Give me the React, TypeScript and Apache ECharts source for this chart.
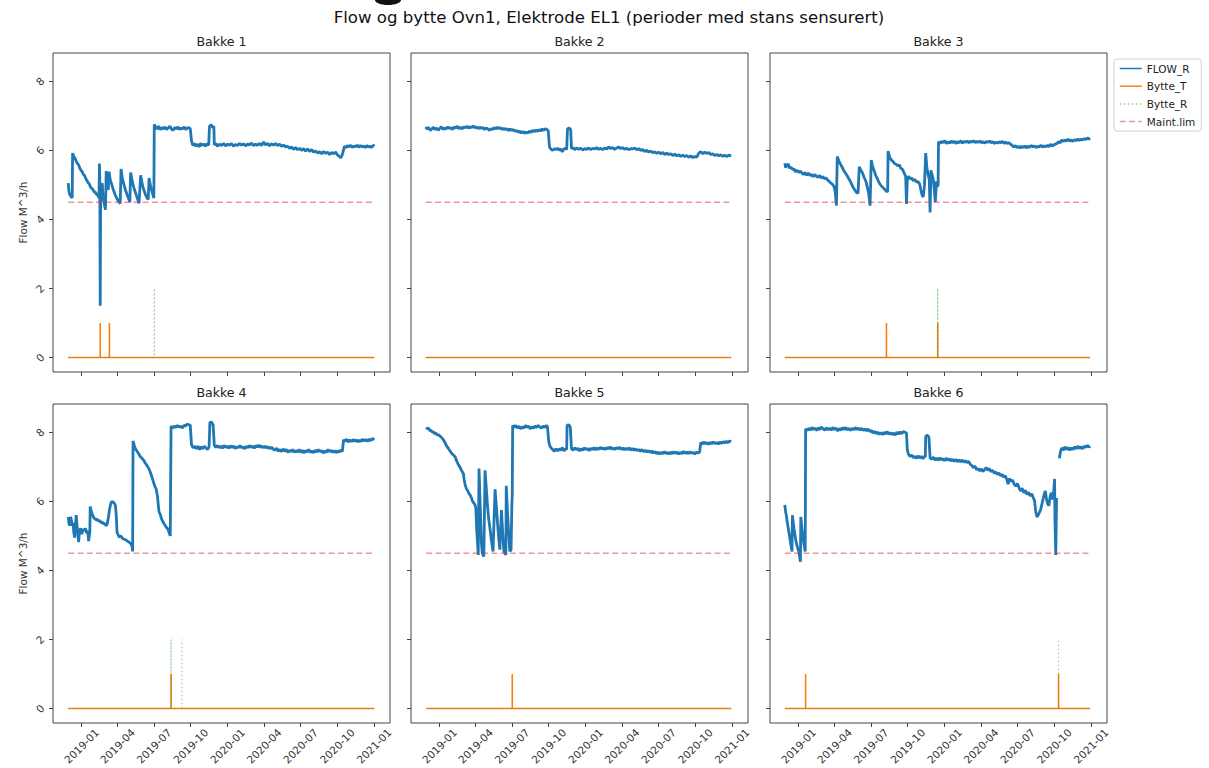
import React, { useEffect, useRef } from "react";
import * as echarts from "echarts";

// Day offsets relative to 2019-01-01, flow values in M^3/h
const flow1: ([number, number] | null)[] = [[-33,5.05],[-31,4.8],[-29,4.72],[-26,4.66],[-23,4.63],[-22,5.92],[-19,5.82],[-16,5.78],[-13,5.68],[-10,5.62],[-7,5.58],[-4,5.48],[-1,5.42],[2,5.38],[5,5.3],[8,5.27],[11,5.18],[14,5.12],[17,5.06],[20,5.02],[23,4.93],[26,4.9],[29,4.86],[32,4.8],[35,4.78],[38,4.72],[41,4.7],[44,4.62],[45,5.62],[46,5.1],[47,1.5],[48,4.62],[50,4.75],[52,5.05],[54,4.62],[57,4.45],[60,4.28],[62,5.4],[64,5.1],[67,4.85],[69,5.38],[72,5.15],[76,5.0],[80,4.85],[84,4.72],[88,4.62],[93,4.52],[97,4.46],[99,5.46],[102,5.2],[106,5.02],[110,4.85],[114,4.72],[118,4.6],[121,4.5],[123,5.36],[127,5.1],[131,4.92],[135,4.78],[140,4.6],[144,4.47],[148,5.28],[152,5.02],[156,4.85],[160,4.72],[164,4.62],[167,4.58],[169,5.2],[173,4.95],[177,4.78],[181,4.62],[182,6.75],[185,6.68],[189,6.62],[193,6.7],[197,6.6],[201,6.66],[205,6.62],[209,6.68],[213,6.6],[217,6.65],[221,6.7],[225,6.62],[229,6.58],[233,6.66],[237,6.62],[241,6.68],[245,6.6],[249,6.65],[253,6.62],[257,6.68],[261,6.6],[265,6.65],[269,6.66],[272,6.62],[275,6.28],[278,6.15],[282,6.2],[286,6.12],[290,6.18],[294,6.1],[298,6.2],[302,6.14],[306,6.18],[310,6.12],[314,6.2],[318,6.15],[320,6.7],[324,6.74],[328,6.66],[331,6.7],[332,6.16],[336,6.2],[340,6.12],[345,6.18],[350,6.14],[355,6.2],[360,6.13],[365,6.18],[370,6.15],[375,6.2],[380,6.12],[385,6.17],[390,6.14],[395,6.2],[400,6.15],[405,6.19],[410,6.13],[415,6.18],[420,6.16],[425,6.21],[430,6.14],[435,6.18],[440,6.15],[445,6.2],[450,6.14],[455,6.24],[460,6.16],[465,6.2],[470,6.13],[475,6.19],[480,6.15],[485,6.2],[490,6.14],[495,6.18],[500,6.12],[505,6.15],[510,6.1],[515,6.12],[520,6.06],[525,6.1],[530,6.03],[535,6.08],[540,6.02],[545,6.06],[550,6.0],[555,6.05],[560,5.98],[565,6.04],[570,5.97],[575,6.02],[580,5.95],[585,5.98],[590,5.92],[595,5.96],[600,5.9],[605,5.97],[610,5.91],[615,5.95],[620,5.88],[625,5.94],[630,5.9],[635,5.95],[640,5.86],[645,5.82],[648,5.78],[652,5.88],[655,6.02],[657,6.12],[661,6.08],[665,6.14],[669,6.1],[673,6.15],[677,6.08],[681,6.13],[685,6.1],[689,6.15],[693,6.09],[697,6.14],[701,6.1],[705,6.13],[709,6.08],[713,6.14],[717,6.1],[721,6.12],[725,6.08],[729,6.15],[732,6.12]];

const flow2: ([number, number] | null)[] = [[-34,6.68],[-31,6.62],[-27,6.66],[-23,6.58],[-19,6.62],[-15,6.67],[-11,6.6],[-7,6.65],[-3,6.58],[1,6.64],[5,6.68],[9,6.6],[13,6.65],[17,6.62],[21,6.68],[25,6.63],[29,6.66],[33,6.6],[37,6.68],[41,6.64],[45,6.7],[49,6.63],[53,6.67],[57,6.62],[61,6.68],[65,6.65],[69,6.7],[73,6.64],[77,6.68],[81,6.66],[85,6.71],[89,6.65],[93,6.68],[97,6.63],[101,6.67],[105,6.64],[109,6.66],[113,6.6],[117,6.65],[121,6.62],[125,6.58],[129,6.63],[133,6.6],[137,6.66],[141,6.62],[145,6.67],[149,6.63],[153,6.66],[157,6.6],[161,6.64],[165,6.6],[169,6.63],[173,6.57],[177,6.62],[181,6.58],[185,6.6],[189,6.55],[193,6.58],[197,6.52],[201,6.56],[205,6.5],[209,6.55],[213,6.49],[217,6.53],[221,6.5],[225,6.56],[229,6.52],[233,6.58],[237,6.54],[241,6.59],[245,6.55],[249,6.6],[253,6.56],[257,6.62],[261,6.58],[265,6.63],[269,6.6],[272,6.56],[275,6.1],[279,6.03],[283,6.0],[287,6.05],[291,6.02],[295,6.06],[299,6.01],[303,6.04],[307,5.96],[311,6.04],[315,6.06],[318,6.02],[320,6.62],[324,6.65],[328,6.6],[330,6.05],[334,6.08],[338,6.02],[343,6.07],[348,6.03],[353,6.06],[358,6.01],[363,6.05],[368,6.03],[373,6.07],[378,6.02],[383,6.06],[388,6.04],[393,6.08],[398,6.03],[403,6.06],[408,6.02],[413,6.07],[418,6.04],[423,6.1],[428,6.05],[433,6.08],[438,6.03],[443,6.07],[448,6.1],[453,6.05],[458,6.08],[463,6.03],[468,6.06],[473,6.02],[478,6.05],[483,6.04],[488,6.07],[493,6.02],[498,6.05],[503,6.0],[508,6.02],[513,5.97],[518,6.0],[523,5.95],[528,5.98],[533,5.93],[538,5.96],[543,5.91],[548,5.95],[553,5.9],[558,5.94],[563,5.88],[568,5.92],[573,5.88],[578,5.9],[583,5.85],[588,5.89],[593,5.84],[598,5.87],[603,5.83],[608,5.86],[613,5.82],[618,5.85],[623,5.8],[628,5.84],[633,5.79],[638,5.82],[643,5.8],[648,5.92],[653,5.96],[658,5.9],[663,5.95],[668,5.91],[673,5.94],[678,5.88],[683,5.9],[688,5.85],[693,5.88],[698,5.84],[703,5.87],[708,5.83],[713,5.86],[718,5.82],[723,5.86],[729,5.84]];

const flow3: ([number, number] | null)[] = [[-34,5.63],[-32,5.5],[-29,5.58],[-25,5.6],[-22,5.48],[-19,5.52],[-15,5.45],[-11,5.46],[-7,5.38],[-3,5.42],[1,5.36],[5,5.4],[9,5.34],[13,5.3],[17,5.36],[21,5.28],[25,5.34],[29,5.27],[33,5.3],[37,5.24],[41,5.3],[45,5.25],[49,5.22],[53,5.27],[57,5.2],[61,5.24],[65,5.18],[69,5.2],[73,5.14],[77,5.1],[81,5.05],[85,5.02],[89,4.95],[92,4.8],[95,4.4],[97,5.82],[101,5.7],[105,5.6],[109,5.52],[113,5.42],[117,5.35],[121,5.28],[125,5.2],[129,5.12],[133,5.02],[137,4.92],[141,4.85],[145,4.78],[149,4.76],[152,5.52],[156,5.42],[160,5.35],[164,5.22],[168,5.12],[172,4.95],[176,4.72],[179,4.4],[182,5.72],[185,5.55],[189,5.42],[193,5.28],[197,5.18],[201,5.08],[205,5.0],[209,4.95],[213,4.9],[217,4.85],[221,4.8],[223,4.82],[224,5.98],[228,5.8],[232,5.72],[236,5.68],[240,5.62],[244,5.6],[248,5.55],[252,5.58],[256,5.48],[260,5.45],[264,5.35],[268,5.25],[270,4.45],[272,5.15],[275,5.25],[279,5.18],[283,5.2],[287,5.12],[291,5.16],[295,5.08],[299,5.1],[303,5.02],[306,4.85],[309,4.7],[312,4.65],[315,5.0],[318,5.92],[321,5.5],[324,5.3],[327,5.15],[329,4.2],[331,5.42],[334,5.3],[337,5.15],[340,4.8],[342,4.5],[345,5.1],[347,4.95],[349,5.0],[350,6.25],[354,6.2],[358,6.26],[362,6.22],[366,6.28],[370,6.2],[374,6.25],[378,6.21],[382,6.27],[386,6.22],[390,6.26],[394,6.2],[398,6.25],[402,6.22],[406,6.28],[410,6.21],[414,6.26],[418,6.23],[422,6.27],[426,6.22],[430,6.26],[434,6.24],[438,6.28],[442,6.22],[446,6.26],[450,6.23],[454,6.27],[458,6.22],[462,6.25],[466,6.21],[470,6.26],[474,6.23],[478,6.27],[482,6.22],[486,6.25],[490,6.2],[494,6.24],[498,6.21],[502,6.25],[506,6.22],[510,6.26],[514,6.2],[518,6.24],[522,6.2],[526,6.22],[530,6.18],[534,6.14],[538,6.1],[542,6.14],[546,6.08],[550,6.12],[554,6.07],[558,6.12],[562,6.08],[566,6.13],[570,6.07],[574,6.12],[578,6.09],[582,6.14],[586,6.1],[590,6.13],[594,6.08],[598,6.12],[602,6.1],[606,6.15],[610,6.09],[614,6.13],[618,6.1],[622,6.15],[626,6.1],[630,6.18],[634,6.12],[638,6.16],[642,6.18],[646,6.2],[650,6.25],[654,6.22],[658,6.3],[662,6.26],[666,6.3],[670,6.27],[674,6.32],[678,6.27],[682,6.3],[686,6.26],[690,6.31],[694,6.28],[698,6.33],[702,6.29],[706,6.32],[710,6.3],[714,6.34],[718,6.31],[722,6.36],[726,6.33],[729,6.35]];

const flow4: ([number, number] | null)[] = [[-33,5.55],[-31,5.35],[-29,5.3],[-27,5.55],[-25,5.45],[-23,5.3],[-21,5.38],[-19,5.1],[-17,4.95],[-15,5.3],[-13,5.6],[-11,5.3],[-9,5.05],[-7,4.82],[-5,5.15],[-2,5.22],[1,5.05],[4,5.2],[7,5.15],[10,5.22],[13,5.08],[16,5.15],[18,4.85],[21,5.1],[22,5.85],[25,5.7],[28,5.6],[31,5.52],[34,5.5],[37,5.46],[40,5.48],[43,5.42],[46,5.45],[49,5.38],[52,5.4],[55,5.35],[58,5.36],[61,5.3],[64,5.32],[67,5.5],[70,5.75],[73,5.92],[76,6.0],[79,5.98],[82,5.95],[85,5.88],[87,5.6],[89,5.1],[92,5.02],[95,4.96],[99,5.0],[103,4.92],[107,4.9],[111,4.88],[115,4.85],[119,4.82],[123,4.78],[126,4.72],[128,4.55],[129,7.75],[132,7.62],[135,7.52],[139,7.45],[143,7.38],[147,7.3],[151,7.25],[155,7.2],[159,7.12],[163,7.05],[167,6.98],[171,6.88],[175,6.75],[179,6.6],[183,6.45],[187,6.35],[190,6.15],[192,5.9],[194,5.7],[197,5.62],[200,5.5],[204,5.4],[208,5.32],[212,5.25],[216,5.2],[219,5.1],[222,5.0],[224,8.18],[228,8.12],[232,8.18],[236,8.14],[240,8.2],[244,8.15],[248,8.18],[252,8.12],[256,8.2],[260,8.18],[264,8.24],[268,8.22],[272,8.2],[275,7.65],[279,7.55],[283,7.6],[287,7.52],[291,7.6],[295,7.5],[299,7.58],[303,7.52],[307,7.6],[311,7.55],[315,7.5],[319,7.58],[321,8.28],[325,8.3],[329,8.22],[332,7.62],[336,7.56],[340,7.62],[344,7.55],[348,7.6],[352,7.54],[356,7.62],[360,7.56],[364,7.6],[368,7.54],[372,7.61],[376,7.56],[380,7.6],[384,7.53],[388,7.58],[392,7.55],[396,7.62],[400,7.55],[404,7.58],[408,7.52],[412,7.6],[416,7.55],[420,7.62],[424,7.56],[428,7.6],[432,7.54],[436,7.62],[440,7.57],[444,7.63],[448,7.56],[452,7.6],[456,7.55],[460,7.6],[464,7.54],[468,7.58],[472,7.52],[476,7.57],[480,7.5],[484,7.48],[488,7.54],[492,7.45],[496,7.5],[500,7.44],[504,7.52],[508,7.45],[512,7.5],[516,7.42],[520,7.48],[524,7.44],[528,7.5],[532,7.42],[536,7.47],[540,7.43],[544,7.5],[548,7.42],[552,7.48],[556,7.4],[560,7.47],[564,7.43],[568,7.5],[572,7.42],[576,7.46],[580,7.41],[584,7.48],[588,7.43],[592,7.5],[596,7.44],[600,7.47],[604,7.4],[608,7.46],[612,7.42],[616,7.5],[620,7.44],[624,7.48],[628,7.42],[632,7.47],[636,7.41],[640,7.46],[644,7.43],[648,7.48],[652,7.45],[655,7.78],[659,7.74],[663,7.8],[667,7.72],[671,7.78],[675,7.73],[679,7.79],[683,7.74],[687,7.78],[691,7.72],[695,7.77],[699,7.74],[703,7.8],[707,7.75],[711,7.79],[715,7.74],[719,7.8],[723,7.76],[727,7.82],[732,7.78]];

const flow5: ([number, number] | null)[] = [[-33,8.14],[-30,8.1],[-27,8.12],[-24,8.05],[-21,8.06],[-18,8.0],[-15,8.02],[-12,7.96],[-9,7.98],[-6,7.92],[-3,7.94],[0,7.9],[3,7.88],[6,7.84],[9,7.8],[12,7.74],[15,7.68],[18,7.6],[21,7.56],[24,7.5],[27,7.45],[30,7.4],[33,7.36],[36,7.33],[39,7.3],[42,7.2],[45,7.12],[48,7.05],[51,7.0],[54,6.92],[57,6.86],[60,6.8],[62,6.62],[64,6.5],[66,6.42],[68,6.35],[71,6.3],[74,6.22],[77,6.18],[80,6.1],[83,6.0],[86,5.95],[89,5.9],[91,5.8],[93,5.2],[95,4.85],[97,4.45],[99,6.95],[101,6.2],[103,5.5],[105,4.8],[107,4.5],[109,4.45],[111,4.4],[114,6.9],[117,6.4],[120,5.9],[123,5.5],[126,5.25],[129,4.95],[132,4.7],[134,4.55],[139,6.35],[142,5.9],[145,5.4],[148,4.95],[151,4.6],[155,5.75],[158,5.1],[161,4.55],[164,4.5],[166,4.45],[167,6.45],[170,5.7],[172,5.3],[174,4.9],[176,4.55],[179,4.6],[181,5.9],[182,6.2],[183,8.2],[187,8.14],[191,8.2],[195,8.12],[199,8.18],[203,8.1],[207,8.16],[211,8.12],[215,8.2],[219,8.14],[223,8.18],[227,8.1],[231,8.16],[235,8.12],[239,8.18],[243,8.14],[247,8.2],[251,8.15],[255,8.12],[259,8.18],[263,8.14],[267,8.2],[270,8.16],[273,7.75],[276,7.6],[279,7.55],[283,7.5],[287,7.45],[291,7.52],[295,7.46],[299,7.52],[303,7.48],[307,7.56],[311,7.46],[315,7.52],[318,7.5],[319,8.2],[323,8.22],[327,8.15],[330,7.52],[334,7.48],[338,7.55],[342,7.5],[346,7.54],[350,7.46],[354,7.52],[358,7.48],[362,7.55],[366,7.5],[370,7.53],[374,7.47],[378,7.54],[382,7.5],[386,7.56],[390,7.49],[394,7.55],[398,7.5],[402,7.57],[406,7.51],[410,7.55],[414,7.5],[418,7.56],[422,7.52],[426,7.58],[430,7.51],[434,7.55],[438,7.5],[442,7.56],[446,7.52],[450,7.57],[454,7.5],[458,7.55],[462,7.49],[466,7.54],[470,7.5],[474,7.55],[478,7.48],[482,7.53],[486,7.48],[490,7.52],[494,7.47],[498,7.5],[502,7.45],[506,7.5],[510,7.44],[514,7.48],[518,7.43],[522,7.47],[526,7.42],[530,7.46],[534,7.4],[538,7.44],[542,7.38],[546,7.43],[550,7.37],[554,7.42],[558,7.38],[562,7.44],[566,7.38],[570,7.42],[574,7.37],[578,7.43],[582,7.38],[586,7.44],[590,7.39],[594,7.43],[598,7.37],[602,7.42],[606,7.38],[610,7.45],[614,7.39],[618,7.43],[622,7.38],[626,7.44],[630,7.39],[634,7.42],[638,7.37],[642,7.43],[646,7.4],[650,7.42],[653,7.7],[657,7.66],[661,7.72],[665,7.67],[669,7.7],[673,7.65],[677,7.71],[681,7.67],[685,7.72],[689,7.68],[693,7.7],[697,7.66],[701,7.72],[705,7.68],[709,7.73],[713,7.69],[717,7.74],[721,7.7],[725,7.75],[729,7.73]];

const flow6: ([number, number] | null)[] = [[-34,5.9],[-32,5.7],[-30,5.58],[-28,5.4],[-25,5.2],[-23,5.05],[-21,4.9],[-19,4.75],[-17,4.62],[-16,4.55],[-15,5.6],[-13,5.4],[-11,5.2],[-9,5.05],[-7,4.9],[-5,4.78],[-2,4.65],[1,4.55],[3,4.4],[5,4.25],[6,5.55],[8,5.3],[10,5.1],[12,4.9],[14,4.75],[16,4.62],[17,4.55],[18,8.1],[22,8.05],[26,8.12],[30,8.06],[34,8.14],[38,8.08],[42,8.12],[46,8.05],[50,8.13],[54,8.08],[58,8.15],[62,8.1],[66,8.06],[70,8.13],[74,8.07],[78,8.12],[82,8.06],[86,8.14],[90,8.08],[94,8.12],[98,8.04],[102,8.11],[106,8.06],[110,8.13],[114,8.08],[118,8.14],[122,8.07],[126,8.12],[130,8.05],[134,8.12],[138,8.07],[142,8.14],[146,8.08],[150,8.12],[154,8.06],[158,8.12],[162,8.05],[166,8.1],[170,8.04],[174,8.1],[178,8.02],[182,8.06],[186,7.98],[190,8.03],[194,7.96],[198,8.01],[202,7.94],[206,7.99],[210,7.93],[214,8.0],[218,7.95],[222,8.02],[226,7.94],[230,7.99],[234,7.93],[238,7.98],[242,7.92],[246,8.0],[250,7.95],[254,8.01],[258,7.96],[262,8.02],[266,8.0],[270,7.98],[272,7.5],[275,7.36],[279,7.3],[283,7.34],[287,7.27],[291,7.3],[295,7.25],[299,7.32],[303,7.26],[307,7.3],[311,7.24],[315,7.3],[317,7.28],[318,7.88],[322,7.92],[326,7.86],[329,7.26],[333,7.22],[337,7.28],[341,7.2],[345,7.25],[349,7.19],[353,7.26],[357,7.2],[361,7.24],[365,7.18],[369,7.25],[373,7.19],[377,7.23],[381,7.17],[385,7.22],[389,7.16],[393,7.22],[397,7.15],[401,7.2],[405,7.14],[409,7.2],[413,7.13],[417,7.18],[421,7.12],[425,7.16],[429,7.08],[433,7.04],[437,6.98],[441,7.02],[445,6.92],[449,6.95],[453,6.88],[457,6.94],[461,6.86],[465,6.92],[469,6.98],[473,6.9],[477,6.95],[481,6.86],[485,6.9],[489,6.82],[493,6.85],[497,6.78],[501,6.82],[505,6.74],[509,6.78],[513,6.7],[517,6.74],[521,6.62],[524,6.5],[527,6.66],[531,6.58],[535,6.62],[539,6.5],[543,6.44],[547,6.52],[551,6.4],[555,6.3],[559,6.38],[563,6.25],[567,6.32],[571,6.2],[575,6.26],[579,6.16],[583,6.22],[587,6.1],[590,6.02],[593,5.7],[596,5.55],[599,5.6],[602,5.68],[605,5.75],[608,5.9],[611,6.05],[614,6.2],[617,6.3],[620,6.05],[623,5.92],[626,5.88],[629,6.15],[632,6.25],[635,6.05],[638,6.3],[640,6.65],[641,5.5],[643,4.45],[645,6.1],null,[652,7.25],[655,7.45],[658,7.55],[662,7.48],[666,7.58],[670,7.5],[674,7.56],[678,7.48],[682,7.55],[686,7.5],[690,7.58],[694,7.52],[698,7.6],[702,7.53],[706,7.58],[710,7.52],[714,7.6],[718,7.56],[722,7.62],[726,7.57],[729,7.6]];

const flows = [flow1, flow2, flow3, flow4, flow5, flow6];
const panelTitles = ["Bakke 1", "Bakke 2", "Bakke 3", "Bakke 4", "Bakke 5", "Bakke 6"];
// Days (offset from 2019-01-01) where electrodes were changed
const bytteTDays = [[47, 70], [], [220, 348], [224], [182], [18, 650]];
const bytteRDays = [[182], [], [348], [224, 251], [], [650]];
const bytteTLevel = 1;
const bytteRLevel = 2;
const maintLim = 4.5;
const yTicks = [0, 2, 4, 6, 8];
const xTickMonths: [number, number][] = [[2019,0],[2019,3],[2019,6],[2019,9],[2020,0],[2020,3],[2020,6],[2020,9],[2021,0]];
const seriesNames = ["FLOW_R", "Bytte_T", "Bytte_R", "Maint.lim"];
const mainTitle = "Flow og bytte Ovn1, Elektrode EL1 (perioder med stans sensurert)";
const yName = "Flow M^3/h";

const DAY = 86400000;
const T0 = Date.UTC(2019, 0, 1);

export default function App() {
  const ref = useRef<HTMLDivElement>(null);
  useEffect(() => {
    if (!ref.current) return;
    const chart = echarts.init(ref.current, undefined, { renderer: "svg" });
    const font = "DejaVu Sans";
    const cols = [53, 411, 770];
    const rows = [53, 404];
    const gw = 337, gh = 319;
    // x axis is in days since 2019-01-01
    const xTicks = xTickMonths.map(([y, m]) => Math.round((Date.UTC(y, m, 1) - T0) / DAY));
    const fmt = (v: number) => {
      const d = new Date(T0 + v * DAY);
      return d.getUTCFullYear() + "-" + String(d.getUTCMonth() + 1).padStart(2, "0");
    };
    const grids: any[] = [], xAxes: any[] = [], yAxes: any[] = [], series: any[] = [];
    const graphics: any[] = [
      { type: "ellipse", shape: { cx: 388, cy: 0, rx: 13, ry: 5 }, style: { fill: "#111" } },
      { type: "text", x: 609, y: 17, style: { text: mainTitle, font: `16.6px "${font}"`, fill: "#111", textAlign: "center", textVerticalAlign: "middle" } },
    ];
    for (let i = 0; i < 6; i++) {
      const r = Math.floor(i / 3), c = i % 3;
      grids.push({ left: cols[c], top: rows[r], width: gw, height: gh, show: true, borderColor: "#444", borderWidth: 1, backgroundColor: "transparent" });
      graphics.push({ type: "text", x: cols[c] + gw / 2, y: rows[r] - 12, style: { text: panelTitles[i], font: `12.6px "${font}"`, fill: "#222", textAlign: "center", textVerticalAlign: "middle" } });
      xAxes.push({
        type: "value", gridIndex: i, min: -71, max: 771, position: "bottom",
        axisLine: { show: false, onZero: false },
        splitLine: { show: false },
        axisTick: { show: true, length: 4, customValues: xTicks, lineStyle: { color: "#444" } },
        axisLabel: {
          show: r === 1, customValues: xTicks, formatter: fmt, rotate: 45, fontSize: 10.5, fontFamily: font, color: "#333",
          align: "center", verticalAlign: "middle", margin: 23, hideOverlap: false,
        },
      });
      yAxes.push({
        type: "value", gridIndex: i, min: -0.42, max: 8.82, position: "left",
        axisLine: { show: false, onZero: false },
        splitLine: { show: false },
        axisTick: { show: true, length: 4, customValues: yTicks, lineStyle: { color: "#444" } },
        axisLabel: { show: c === 0, customValues: yTicks, rotate: 45, fontSize: 10.5, fontFamily: font, color: "#333", align: "center", verticalAlign: "middle", margin: 13 },
        name: c === 0 ? yName : "", nameLocation: "middle", nameGap: 25,
        nameTextStyle: { fontSize: 10.5, fontFamily: font, color: "#333" },
      });
      const fl = flows[i];
      const valid = fl.filter((p) => p !== null) as [number, number][];
      const start = valid[0][0], end = valid[valid.length - 1][0];
      const flowData: any[] = fl.map((p, k) => {
        if (p !== null) return [p[0], p[1]];
        const a = fl[k - 1] as [number, number], b = fl[k + 1] as [number, number];
        return [(a[0] + b[0]) / 2, "-"];
      });
      const spikes = (days: number[], h: number) => {
        const out: any[] = [[start, 0]];
        days.forEach((d) => { out.push([d, 0], [d, h], [d, 0]); });
        out.push([end, 0]);
        return out;
      };
      const common = { type: "line", xAxisIndex: i, yAxisIndex: i, symbol: "none", showSymbol: false, silent: true, emphasis: { disabled: true } };
      series.push({ ...common, name: seriesNames[0], data: flowData, z: 3, lineStyle: { color: "#1f77b4", width: 2.8 }, itemStyle: { color: "#1f77b4" } });
      series.push({ ...common, name: seriesNames[1], data: spikes(bytteTDays[i], bytteTLevel), z: 4, lineStyle: { color: "#ff7f0e", width: 1.6 }, itemStyle: { color: "#ff7f0e" } });
      series.push({ ...common, name: seriesNames[2], data: spikes(bytteRDays[i], bytteRLevel), z: 5, lineStyle: { color: "rgba(44,160,44,0.5)", width: 1.2, type: [1.5, 2.5] }, itemStyle: { color: "rgba(44,160,44,0.5)" } });
      series.push({ ...common, name: seriesNames[3], data: [[start, maintLim], [end, maintLim]], z: 6, lineStyle: { color: "rgba(230,40,60,0.5)", width: 1.5, type: [6, 3.3] }, itemStyle: { color: "rgba(230,40,60,0.5)" } });
    }
    chart.setOption({
      animation: false,
      backgroundColor: "#fff",
      textStyle: { fontFamily: font },
      grid: grids,
      xAxis: xAxes,
      yAxis: yAxes,
      series,
      graphic: graphics,
      legend: {
        data: seriesNames, orient: "vertical", left: 1114, top: 59,
        itemWidth: 22, itemHeight: 10, itemGap: 6.7,
        padding: [4, 6, 4, 5], borderColor: "#d0d0d0", borderWidth: 1, borderRadius: 3, backgroundColor: "#fff",
        itemStyle: { opacity: 0 },
        lineStyle: { width: 1.5 },
        textStyle: { fontSize: 10.5, fontFamily: font, color: "#222" },
        selectedMode: false,
      },
    });
    return () => chart.dispose();
  }, []);
  return <div ref={ref} style={{ position: "absolute", left: 0, top: 0, width: 1209, height: 768 }} />;
}
